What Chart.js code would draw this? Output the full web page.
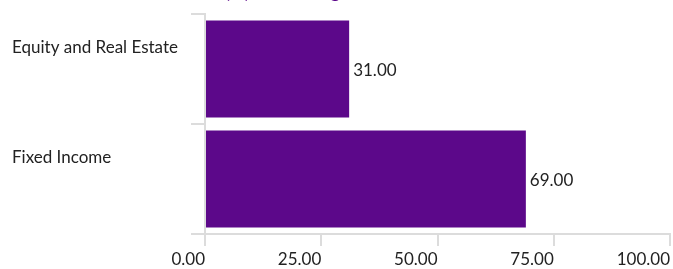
<!DOCTYPE html>
<html>
<head>
<meta charset="utf-8">
<script src="https://cdn.jsdelivr.net/npm/chart.js@4/dist/chart.umd.min.js"></script>
<style>
  html, body { margin: 0; padding: 0; background: #ffffff; }
  #wrap { width: 673px; height: 269px; position: relative; }
</style>
</head>
<body>
<div id="wrap"><canvas id="c"></canvas></div>
<script>
// ---- data ----
const categories = ['Equity and Real Estate', 'Fixed Income'];
const allocation = [31, 69];
const xMin = 0;
const xMax = 100;
const xStep = 25;
const titleText = 'Asset Allocation (%) Fund Weight';
const titlePrefix = 'Asset Allocation ';

const FONT = 'Lato';
const PURPLE = '#5c088a';
const GRID = '#dcdcdc';
const TEXT = '#222222';

const titlePlugin = {
  id: 'cutTitle',
  afterDraw(chart) {
    const ctx = chart.ctx;
    ctx.save();
    ctx.font = 'bold 18px ' + FONT;
    ctx.fillStyle = PURPLE;
    ctx.textAlign = 'left';
    ctx.textBaseline = 'alphabetic';
    const pre = ctx.measureText(titlePrefix).width;
    ctx.fillText(titleText, 225 - pre, -2);
    ctx.restore();
  }
};

const valueLabels = {
  id: 'valueLabels',
  afterDatasetsDraw(chart) {
    const ctx = chart.ctx;
    const meta = chart.getDatasetMeta(0);
    ctx.save();
    ctx.font = '17px ' + FONT;
    ctx.fillStyle = TEXT;
    ctx.textAlign = 'left';
    ctx.textBaseline = 'middle';
    meta.data.forEach((bar, i) => {
      const v = chart.data.datasets[0].data[i];
      ctx.fillText(v.toFixed(2), bar.x + 4, bar.y + 2);
    });
    ctx.restore();
  }
};

new Chart(document.getElementById('c'), {
  type: 'bar',
  data: {
    labels: categories,
    datasets: [{
      data: allocation,
      backgroundColor: PURPLE,
      borderWidth: 0,
      barPercentage: 1,
      categoryPercentage: 0.88
    }]
  },
  plugins: [titlePlugin, valueLabels],
  options: {
    indexAxis: 'y',
    responsive: true,
    maintainAspectRatio: false,
    animation: false,
    layout: { padding: { top: 14, left: 12, right: 1, bottom: 0 } },
    plugins: {
      legend: { display: false },
      tooltip: { enabled: false },
      title: { display: false }
    },
    scales: {
      x: {
        min: xMin,
        max: xMax,
        ticks: {
          stepSize: xStep,
          align: 'end',
          padding: 3,
          color: TEXT,
          font: { family: FONT, size: 17 },
          callback: (v) => Number(v).toFixed(2)
        },
        grid: { drawOnChartArea: false, drawTicks: true, tickLength: 12, color: GRID, lineWidth: 2 },
        border: { display: true, color: GRID, width: 2 },
        afterFit: (s) => { s.height = 35; }
      },
      y: {
        ticks: {
          crossAlign: 'far',
          labelOffset: -21,
          color: TEXT,
          font: { family: FONT, size: 17 }
        },
        grid: { drawOnChartArea: false, drawTicks: true, tickLength: 14, color: GRID, lineWidth: 2, offset: true },
        border: { display: true, color: GRID, width: 2 },
        afterFit: (s) => { s.width = 193; }
      }
    }
  }
});
</script>
</body>
</html>
